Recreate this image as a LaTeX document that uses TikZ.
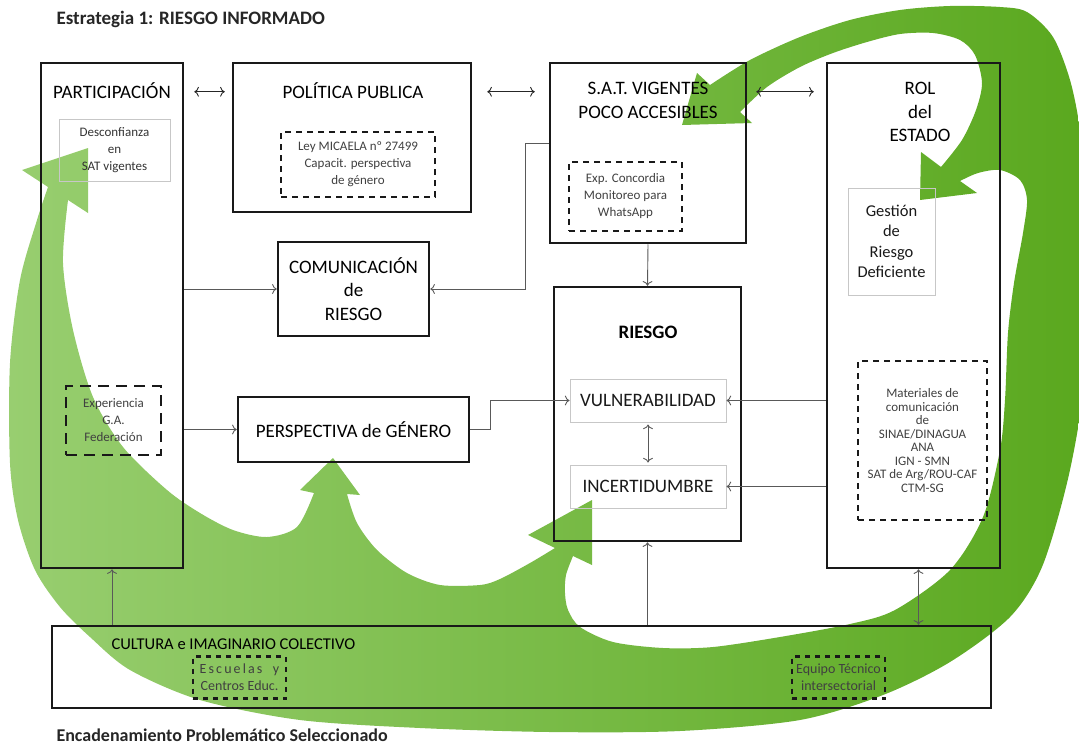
\documentclass[tikz,border=0pt]{standalone}
\usepackage{fontspec}
\setmainfont{Carlito}
\usetikzlibrary{arrows.meta}
\definecolor{verdeA}{HTML}{98CE70}
\definecolor{verdeB}{HTML}{5AA81E}
\newcommand\fs[2]{\fontsize{#1}{#2}\selectfont}

\begin{document}
\begin{tikzpicture}[x=1pt,y=-1pt,>={To[scale=1.3]},
caja/.style={draw=black!90,line width=2.5pt,inner sep=0pt},
gris/.style={draw=black!22,line width=1pt,inner sep=0pt,align=center,text=black!80},
punt/.style={draw=black!90,line width=2.5pt,dash pattern=on 6pt off 5pt,inner sep=0pt,align=center,text=black!75},
flecha/.style={draw=black!65,line width=0.9pt,->}]
\useasboundingbox (0,0) rectangle (1079,747);
\begin{scope}
\clip (0,0) rectangle (1079,747);
\shade[left color=verdeA,right color=verdeB]
 (88,148) -- (88,213)
 -- plot[smooth] coordinates {(68,200) (63,263) (73,330) (93,397) (123,447) (167,490) (200,513) (233,530) (267,537) (297,527) (314,493)}
 -- (300,490) -- (333,458) -- (360,495)
 -- plot[smooth] coordinates {(347,494) (357,523) (377,550) (407,573) (440,585) (480,585) (500,579) (530,563) (555,548)}
 -- (528,535) -- (592,500) -- (592,565)
 -- plot[smooth] coordinates {(573,556) (566,575) (565,593) (568,610) (580,627) (613,642) (663,648) (713,647) (780,637) (850,624) (895,610) (950,570) (983,517) (1000,450) (1005,400) (1008,333) (1014,283) (1023,233) (1027,200) (1020,180) (1000,170) (978,173) (960,181)}
 -- (977,193) -- (920,200) -- (921,152)
 -- plot[smooth] coordinates {(941,167) (962,140) (976,110) (982,83) (975,55) (960,40) (933,33) (900,34) (867,42) (833,53) (800,67) (767,87) (740,112)}
 -- (752,123) -- (682,125) -- (697,73)
 -- plot[smooth] coordinates {(710,85) (750,60) (800,37) (850,20) (900,10) (950,6) (1000,7) (1027,12) (1053,37) (1070,80) (1080,130) (1086,200) (1088,300) (1082,400) (1067,483) (1042,567) (1010,617) (950,662) (883,695) (800,720) (680,731) (550,732) (420,728) (300,720) (200,700) (130,670) (90,637) (60,607) (35,570) (18,520) (10,463) (10,363) (20,280) (37,220) (48,187)}
 -- (22,170) -- cycle;
\end{scope}

\node[anchor=west,font=\bfseries\fs{19}{23},text=black!85] (titulo) at (53,19) {Estrategia 1: RIESGO INFORMADO};
\node[anchor=base west,font=\bfseries\fs{18}{23},text=black!85] (pie) at (53,741) {Encadenamiento Problemático Seleccionado};

\node[caja,minimum width=142pt,minimum height=505pt] (part) at (112,315.5) {};
\node[caja,minimum width=238pt,minimum height=149pt] (pol) at (352,137.5) {};
\node[caja,minimum width=196pt,minimum height=180pt] (sat) at (648,153) {};
\node[caja,minimum width=173pt,minimum height=505pt] (rol) at (913.5,315.5) {};
\node[caja,minimum width=151pt,minimum height=94pt,align=center,font=\fs{19}{23.5}] (com) at (353.5,289) {COMUNICACIÓN\\de\\RIESGO};
\node[caja,minimum width=231pt,minimum height=65pt,font=\fs{19}{23}] (per) at (353.5,429.5) {PERSPECTIVA de GÉNERO};
\node[caja,minimum width=187pt,minimum height=254pt] (rie) at (647.5,414) {};
\node[caja,minimum width=939pt,minimum height=82pt] (cul) at (521.5,667) {};

\node[font=\fs{19}{23}] (partT) at (112,91) {PARTICIPACIÓN};
\node[font=\fs{19}{23}] (polT) at (353,91) {POLÍTICA PUBLICA};
\node[font=\fs{19}{24},align=center] (satT) at (648,100) {S.A.T. VIGENTES\\POCO ACCESIBLES};
\node[font=\fs{19}{23.5},align=center] (rolT) at (920,112) {ROL\\del\\ESTADO};
\node[font=\bfseries\fs{19}{23}] (rieT) at (648,332) {RIESGO};
\node[font=\fs{16.5}{20},anchor=west] (culT) at (108,644) {CULTURA e IMAGINARIO COLECTIVO};

\node[gris,minimum width=111pt,minimum height=62pt,font=\fs{13}{17}] (des) at (114.5,150) {Desconfianza\\en\\SAT vigentes};
\node[gris,minimum width=156pt,minimum height=43pt,font=\fs{19}{23},text=black!90] (vul) at (648,400.5) {VULNERABILIDAD};
\node[gris,minimum width=156pt,minimum height=43pt,font=\fs{19}{23},text=black!90] (inc) at (648,486.5) {INCERTIDUMBRE};
\node[gris,minimum width=87pt,minimum height=107pt,font=\fs{16.5}{20.3},text=black!90] (ges) at (891.5,241.5) {Gestión\\de\\Riesgo\\Deficiente};

\node[punt,minimum width=154pt,minimum height=65pt,font=\fs{13}{17}] (ley) at (358,164.5) {Ley MICAELA nº 27499\\Capacit. perspectiva\\de género};
\node[punt,minimum width=113pt,minimum height=69pt,font=\fs{13}{17}] (expc) at (625.5,196.5) {Exp. Concordia\\Monitoreo para\\WhatsApp};
\node[punt,dash pattern=on 11pt off 7pt,minimum width=95pt,minimum height=69pt,font=\fs{13}{17}] (gaf) at (113.5,420.5) {Experiencia\\G.A.\\Federación};
\node[punt,minimum width=129pt,minimum height=159pt,font=\fs{13}{13.5}] (mat) at (922.5,440.5) {Materiales de\\comunicación\\de\\SINAE/DINAGUA\\ANA\\IGN - SMN\\SAT de Arg/ROU-CAF\\CTM-SG};
\node[punt,dash pattern=on 5pt off 5pt,minimum width=93pt,minimum height=42pt,font=\fs{14}{17}] (esc) at (239.5,677.5) {{\addfontfeature{LetterSpace=15}Escuelas\ \ y}\\Centros Educ.};
\node[punt,dash pattern=on 5pt off 5pt,minimum width=93pt,minimum height=42pt,font=\fs{14}{17}] (equ) at (838.5,677.5) {Equipo Técnico\\intersectorial};

\draw[flecha,<->,black!85] ([shift={(10,30)}]part.north east) -- ([shift={(-7,30)}]pol.north west);
\draw[flecha,<->,black!85] ([shift={(15,30)}]pol.north east) -- ([shift={(-14,30)}]sat.north west);
\draw[flecha,<->,black!85] ([shift={(9,30)}]sat.north east) -- ([shift={(-12,30)}]rol.north west);
\draw[flecha] (part.east |- com.west) -- (com.west);
\draw[flecha] (part.east |- per.west) -- (per.west);
\draw[flecha] ([shift={(0,-10)}]sat.west) -- ++(-23,0) |- (com.east);
\draw[flecha] (sat.south) -- (rie.north);
\draw[flecha] (per.east) -- ++(20,0) |- (vul.west);
\draw[flecha] (rol.west |- vul.east) -- (vul.east);
\draw[flecha] (rol.west |- inc.east) -- (inc.east);
\draw[flecha,<->] ([yshift=-2pt]vul.south) -- ([yshift=2pt]inc.north);
\draw[flecha] (cul.north -| part.south) -- (part.south);
\draw[flecha] (cul.north -| rie.south) -- (rie.south);
\draw[flecha,<->] ([xshift=5pt]rol.south) -- ([xshift=5pt]rol.south |- cul.north);
\end{tikzpicture}
\end{document}
